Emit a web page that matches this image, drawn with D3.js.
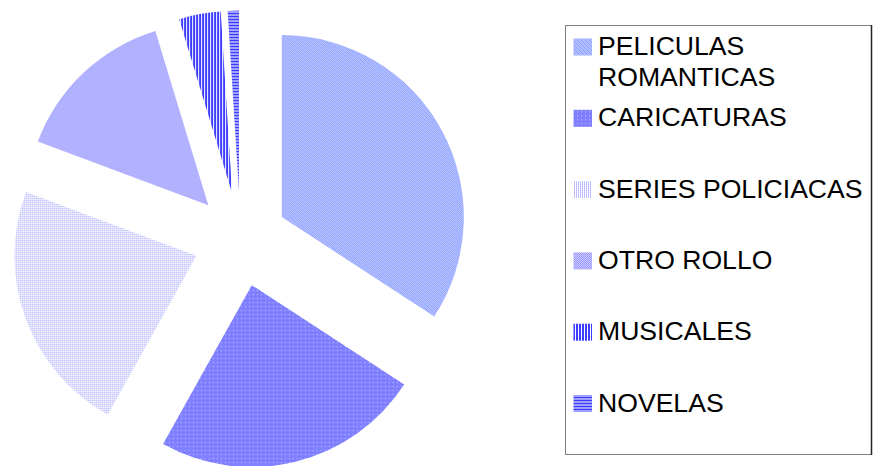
<!DOCTYPE html>
<html>
<head>
<meta charset="utf-8">
<script src="https://cdn.jsdelivr.net/npm/d3@7"></script>
<style>
    body { margin: 0; background: #fff; }
    svg { display: block; }
</style>
</head>
<body>
<div id="chart"></div>
<script>
// data (shares of the pie, in %)
const categories = ['PELICULAS ROMANTICAS', 'CARICATURAS', 'SERIES POLICIACAS', 'OTRO ROLLO', 'MUSICALES', 'NOVELAS'];
const values = [34.2, 23.9, 22.6, 14.6, 3.7, 1.0];
// legend lines (first entry wraps)
const legendLines = [['PELICULAS', 'ROMANTICAS'], ['CARICATURAS'], ['SERIES POLICIACAS'], ['OTRO ROLLO'], ['MUSICALES'], ['NOVELAS']];

const width = 873, height = 466;
const cx = 240.5, cy = 239.5, radius = 182, explode = 47;

let svg = d3.select('#chart').append('svg')
    .attr('width', width)
    .attr('height', height);

let defs = svg.append('defs');

// pattern fills, one per slice
function makePattern(id, size, bg, draw) {
    let p = defs.append('pattern')
        .attr('id', id)
        .attr('patternUnits', 'userSpaceOnUse')
        .attr('width', size)
        .attr('height', size);
    p.append('rect').attr('width', size).attr('height', size).attr('fill', bg);
    draw(p);
}

// romanticas: fine diagonal
makePattern('p0', 4, '#b8c4ff', p => {
    [0, 1, 2, 3].forEach(k => {
        p.append('rect').attr('x', k).attr('y', k).attr('width', 1).attr('height', 1).attr('fill', '#8a9cff');
        p.append('rect').attr('x', (k + 2) % 4).attr('y', k).attr('width', 1).attr('height', 1).attr('fill', '#a0b0ff');
    });
});
// caricaturas: blue with white dots
makePattern('p1', 4, '#7f7fff', p => {
    p.append('rect').attr('x', 1).attr('y', 1).attr('width', 1).attr('height', 1).attr('fill', '#c8c8ff');
});
// series policiacas: sparse dots
makePattern('p2', 2, '#ffffff', p => {
    p.append('rect').attr('x', 0).attr('y', 0).attr('width', 1).attr('height', 1).attr('fill', '#7a7aff');
});
// otro rollo: checker
makePattern('p3', 2, '#d0d0ff', p => {
    p.append('rect').attr('x', 0).attr('y', 0).attr('width', 1).attr('height', 1).attr('fill', '#9393ff');
    p.append('rect').attr('x', 1).attr('y', 1).attr('width', 1).attr('height', 1).attr('fill', '#9393ff');
});
// musicales: vertical stripes
makePattern('p4', 3, '#ffffff', p => {
    p.append('rect').attr('x', 0).attr('y', 0).attr('width', 2).attr('height', 3).attr('fill', '#3d3dff');
});
// novelas: horizontal stripes
makePattern('p5', 3, '#ffffff', p => {
    p.append('rect').attr('x', 0).attr('y', 0).attr('width', 3).attr('height', 2).attr('fill', '#3d3dff');
});

let pie = d3.pie().sort(null).value(d => d);
let arc = d3.arc().innerRadius(0).outerRadius(radius);

let slices = svg.append('g')
    .attr('transform', `translate(${cx},${cy})`)
    .selectAll('path')
    .data(pie(values))
    .enter()
    .append('path')
    .attr('d', arc)
    .attr('fill', (d, i) => `url(#p${i})`)
    .attr('transform', d => {
        let mid = (d.startAngle + d.endAngle) / 2;
        return `translate(${explode * Math.sin(mid)},${-explode * Math.cos(mid)})`;
    });

// legend
let legend = svg.append('g');
legend.append('rect')
    .attr('x', 565.5).attr('y', 25.5)
    .attr('width', 306).attr('height', 429)
    .attr('fill', '#fff')
    .attr('stroke', '#808080')
    .attr('stroke-width', 1);
legend.append('line')
    .attr('x1', 871.5).attr('y1', 25).attr('x2', 871.5).attr('y2', 455)
    .attr('stroke', '#222').attr('stroke-width', 1.5);

let step = 71.3, firstBase = 55;
let items = legend.selectAll('g.item')
    .data(legendLines)
    .enter()
    .append('g')
    .classed('item', true)
    .attr('transform', (d, i) => `translate(0,${firstBase + i * step})`);

items.append('rect')
    .attr('x', 573.5).attr('y', -16.5)
    .attr('width', 18.5).attr('height', 17)
    .attr('fill', (d, i) => `url(#p${i})`);

items.append('text')
    .attr('x', 598)
    .attr('font-family', 'Arial, "Liberation Sans", sans-serif')
    .attr('font-size', 26.6)
    .attr('fill', '#000')
    .selectAll('tspan')
    .data(d => d)
    .enter()
    .append('tspan')
    .attr('x', 598)
    .attr('y', (d, i) => i * 30.7)
    .text(d => d);
</script>
</body>
</html>
